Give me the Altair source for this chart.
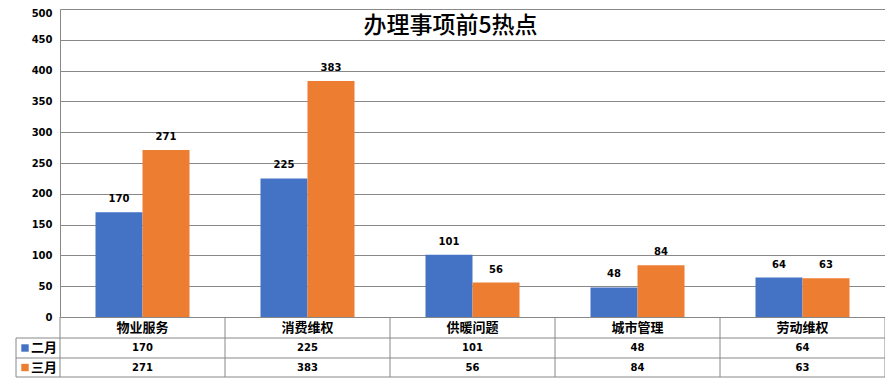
import altair as alt
import pandas as pd

categories = ['物业服务', '消费维权', '供暖问题', '城市管理', '劳动维权']
series_names = ['二月', '三月']
feb_values = [170, 225, 101, 48, 64]
mar_values = [271, 383, 56, 84, 63]
y_ticks = [0, 50, 100, 150, 200, 250, 300, 350, 400, 450, 500]
colors = ['#4472C4', '#ED7D31']

rows = []
for c, f, m in zip(categories, feb_values, mar_values):
    rows.append({'cat': c, 'series': '二月', 'value': f})
    rows.append({'cat': c, 'series': '三月', 'value': m})
df = pd.DataFrame(rows)
cat_df = pd.DataFrame({'cat': categories})
ser_df = pd.DataFrame({'series': series_names})

W, H = 825, 308
NUM_FONT = 'DejaVu Sans'
CJK_FONT = 'Noto Sans CJK SC'
LINE = '#888888'

x_enc = alt.X('cat:N', sort=categories, axis=None,
              scale=alt.Scale(paddingInner=0, paddingOuter=0))
col_scale = alt.Scale(domain=series_names, range=colors)
xoff = alt.XOffset('series:N', sort=series_names,
                   scale=alt.Scale(paddingInner=0, paddingOuter=0.755))
y_axis = alt.Axis(values=y_ticks, title=None, ticks=False, domain=True,
                  domainColor=LINE, gridColor=LINE, grid=True, labelOverlap=False,
                  labelFont=NUM_FONT, labelFontWeight='bold', labelFontSize=10,
                  labelColor='#000000', labelPadding=8,
                  labelOffset={'condition': {'test': 'datum.value === 500', 'value': 4}, 'value': 0})
y_enc = alt.Y('value:Q', scale=alt.Scale(domain=[0, 500]), axis=y_axis)

bars = alt.Chart(df).mark_bar(size=47).encode(
    x=x_enc, xOffset=xoff, y=y_enc,
    color=alt.Color('series:N', scale=col_scale, legend=None),
)

labels = alt.Chart(df).mark_text(baseline='bottom', dy=-8, font=NUM_FONT,
                                 fontWeight='bold', fontSize=10, color='#000000').encode(
    x=x_enc, xOffset=xoff, y=y_enc, text='value:Q',
)

# table
rule_style = dict(color=LINE, strokeWidth=1)
hlines = []
for yv, x0 in [(329, -44), (349, -44), (368, -44)]:
    hlines.append(alt.Chart(cat_df.head(1)).mark_rule(**rule_style).encode(
        x=alt.value(x0), x2=alt.value(W), y=alt.value(yv)))
vleft = alt.Chart(cat_df.head(1)).mark_rule(**rule_style).encode(
    x=alt.value(-44), y=alt.value(329), y2=alt.value(368))
vzero = alt.Chart(cat_df.head(1)).mark_rule(**rule_style).encode(
    x=alt.value(0), y=alt.value(308), y2=alt.value(368))
vcats = alt.Chart(cat_df).mark_rule(**rule_style).encode(
    x=alt.X('cat:N', sort=categories, bandPosition=1),
    y=alt.value(308), y2=alt.value(368))

header = alt.Chart(cat_df).mark_text(font=CJK_FONT, fontWeight='bold', fontSize=13,
                                     color='#000000', baseline='middle').encode(
    x=alt.X('cat:N', sort=categories, bandPosition=0.5), y=alt.value(318.5), text='cat:N')

row_layers = []
for s, yv in [('二月', 339), ('三月', 358.5)]:
    sub = df[df['series'] == s]
    row_layers.append(alt.Chart(sub).mark_text(font=NUM_FONT, fontWeight='bold', fontSize=10,
                                               color='#000000', baseline='middle').encode(
        x=alt.X('cat:N', sort=categories, bandPosition=0.5), y=alt.value(yv), text='value:Q'))
    sdf = ser_df[ser_df['series'] == s]
    row_layers.append(alt.Chart(sdf).mark_square(size=55, opacity=1, filled=True).encode(
        x=alt.value(-35), y=alt.value(yv), color=alt.Color('series:N', scale=col_scale, legend=None)))
    row_layers.append(alt.Chart(sdf).mark_text(font=CJK_FONT, fontWeight='bold', fontSize=13,
                                               color='#000000', baseline='middle', align='left').encode(
        x=alt.value(-29), y=alt.value(yv), text='series:N'))

chart = alt.layer(bars, labels, *hlines, vleft, vzero, vcats, header, *row_layers).properties(
    width=W, height=H,
    title=alt.TitleParams('办理事项前5热点', font=CJK_FONT, fontSize=23, fontWeight=500,
                          color='#000000', anchor='middle', orient='top', offset=-48, dx=-22,
                          baseline='alphabetic'),
    autosize=alt.AutoSizeParams(type='none'),
    padding={'left': 52, 'top': 1, 'right': 0, 'bottom': 66},
).configure_view(stroke=None)

chart.save('out.html', embed_options={'renderer': 'svg', 'actions': False})
